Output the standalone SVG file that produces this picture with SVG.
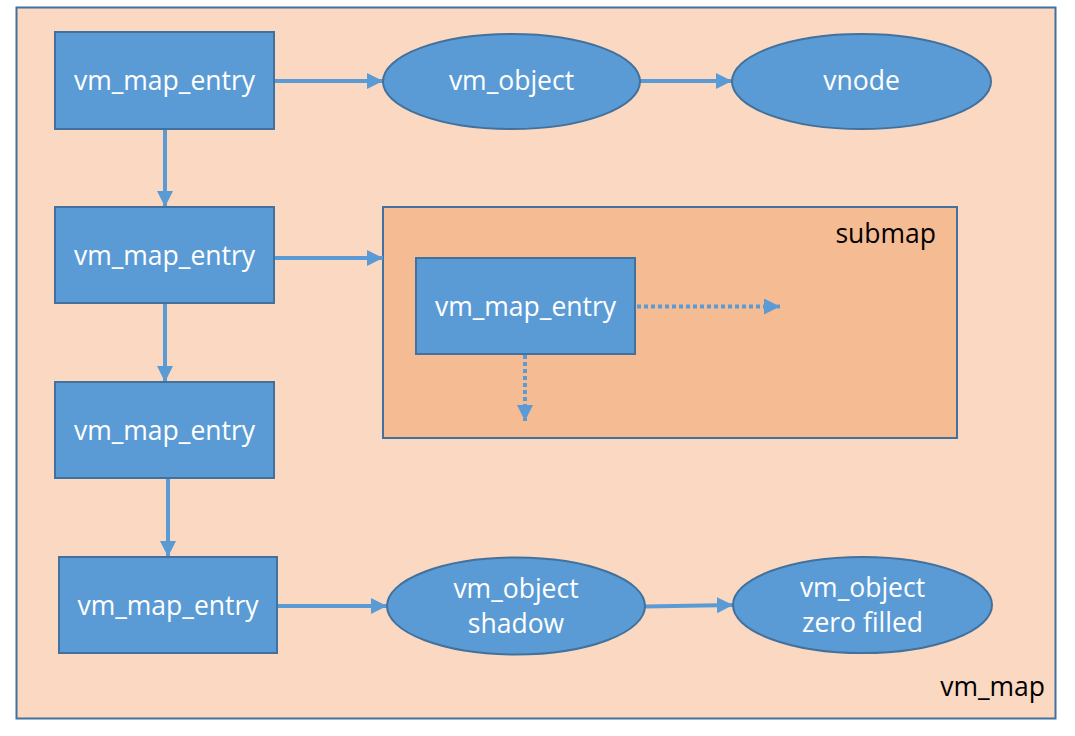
<svg xmlns="http://www.w3.org/2000/svg" width="1075" height="736" viewBox="0 0 1075 736">
<style>
.box{fill:#5B9BD5;stroke:#41719C;stroke-width:2}
.lbl{font-family:"Open Sans","Liberation Sans",sans-serif;font-size:26.5px;fill:#FFFFFF;text-anchor:middle}
.blk{font-family:"Open Sans","Liberation Sans",sans-serif;font-size:26.5px;fill:#000000;text-anchor:end}
.ln{stroke:#5B9BD5;stroke-width:4;fill:none;marker-end:url(#ah)}
.dot{stroke:#5B9BD5;stroke-width:4;fill:none;stroke-dasharray:4 3;marker-end:url(#ah)}
</style>
<defs>
<marker id="ah" markerWidth="4" markerHeight="4" refX="4" refY="2" orient="auto" markerUnits="strokeWidth">
<path d="M0,0 L4,2 L0,4 Z" fill="#5B9BD5"/>
</marker>
</defs>
<rect width="1075" height="736" fill="#FFFFFF"/>
<g id="vm_map">
<rect x="16.5" y="7.5" width="1039" height="711" fill="#FAD8C1" stroke="#41719C" stroke-width="2"/>
<text class="blk" x="1045" y="696">vm_map</text>
</g>
<g id="submap">
<rect x="383" y="207" width="574" height="231" fill="#F5BB93" stroke="#41719C" stroke-width="2"/>
<text class="blk" x="936" y="243">submap</text>
</g>
<g id="connectors">
<line class="ln" x1="274" y1="81" x2="383" y2="81"/>
<line class="ln" x1="640" y1="81" x2="732" y2="81"/>
<line class="ln" x1="165" y1="129" x2="165" y2="207"/>
<line class="ln" x1="274" y1="258" x2="383" y2="258"/>
<line class="ln" x1="165" y1="303" x2="165" y2="382"/>
<line class="ln" x1="168" y1="478" x2="168" y2="557"/>
<line class="ln" x1="277" y1="606" x2="387" y2="606"/>
<line class="ln" x1="645" y1="606.5" x2="733" y2="605"/>
<line class="dot" x1="637" y1="306.5" x2="780" y2="306.5"/>
<line class="dot" x1="525" y1="355" x2="525" y2="421"/>
</g>
<g id="entry1">
<rect class="box" x="55" y="32" width="219" height="97"/>
<text class="lbl" x="164.5" y="90">vm_map_entry</text>
</g>
<g id="entry2">
<rect class="box" x="55" y="207" width="219" height="96"/>
<text class="lbl" x="164.5" y="265">vm_map_entry</text>
</g>
<g id="entry3">
<rect class="box" x="55" y="382" width="219" height="96"/>
<text class="lbl" x="164.5" y="440">vm_map_entry</text>
</g>
<g id="entry4">
<rect class="box" x="59" y="557" width="218" height="96"/>
<text class="lbl" x="168" y="615">vm_map_entry</text>
</g>
<g id="sub_entry">
<rect class="box" x="416" y="258" width="219" height="96"/>
<text class="lbl" x="525.5" y="316">vm_map_entry</text>
</g>
<g id="vm_object">
<ellipse class="box" cx="511.5" cy="81.5" rx="128.5" ry="47.5"/>
<text class="lbl" x="511.5" y="90">vm_object</text>
</g>
<g id="vnode">
<ellipse class="box" cx="861.5" cy="81.5" rx="129.5" ry="47.5"/>
<text class="lbl" x="861.5" y="90">vnode</text>
</g>
<g id="vm_object_shadow">
<ellipse class="box" cx="516" cy="606" rx="129" ry="48.5"/>
<text class="lbl" x="516" y="598">vm_object</text>
<text class="lbl" x="516" y="633">shadow</text>
</g>
<g id="vm_object_zero">
<ellipse class="box" cx="862.5" cy="605" rx="129.5" ry="48"/>
<text class="lbl" x="862.5" y="597">vm_object</text>
<text class="lbl" x="862.5" y="632">zero filled</text>
</g>
</svg>
